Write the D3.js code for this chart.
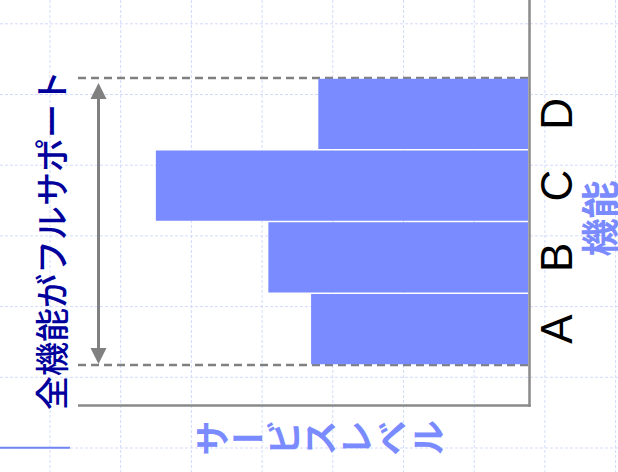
<!DOCTYPE html>
<html>
<head>
<meta charset="utf-8">
<script src="https://cdn.jsdelivr.net/npm/d3@7"></script>
<style>
  html, body { margin: 0; padding: 0; background: #fff; }
  svg { display: block; }
</style>
</head>
<body>
<script>
// ---- data ----
const categories = ["A", "B", "C", "D"];
const values = [48.2, 57.7, 82.7, 46.6];
const xTitle = "サービスレベル";
const yTitle = "機能";
const annotation = "全機能がフルサポート";

const W = 618, H = 472;
const svg = d3.select("body").append("svg").attr("width", W).attr("height", H);

// background grid (decorative)
const gx = d3.scaleLinear().domain([0, 1]).range([50, 120.7]);
const gy = d3.scaleLinear().domain([0, 1]).range([23.8, 94.5]);
const grid = svg.append("g").attr("stroke", "#d3dbfb").attr("stroke-width", 1).attr("stroke-dasharray", "3,2");
d3.range(0, 9).forEach(i => grid.append("line").attr("x1", gx(i)).attr("x2", gx(i)).attr("y1", 0).attr("y2", H));
d3.range(0, 7).forEach(i => grid.append("line").attr("y1", gy(i)).attr("y2", gy(i)).attr("x1", 0).attr("x2", W));

// scales
const x = d3.scaleLinear().domain([0, 100]).range([528, 78]);
const y = d3.scaleBand().domain(categories).range([365, 78]).paddingInner(0);
const bw = y.bandwidth();

// stray legend-like line
svg.append("line").attr("x1", 0).attr("x2", 70).attr("y1", 447.7).attr("y2", 447.7)
  .attr("stroke", "#6f86f2").attr("stroke-width", 2);

// dashed reference lines
const refY = y.range();
svg.selectAll("line.ref").data(refY).join("line").attr("class", "ref")
  .attr("x1", x.range()[1]).attr("x2", x.range()[0])
  .attr("y1", d => d).attr("y2", d => d)
  .attr("stroke", "#808080").attr("stroke-width", 2.4).attr("stroke-dasharray", "8,5");

// bars
svg.selectAll("rect.bar").data(categories).join("rect").attr("class", "bar")
  .attr("x", (d, i) => x(values[i]))
  .attr("width", (d, i) => x(0) - x(values[i]))
  .attr("y", d => y(d) + 0.75)
  .attr("height", bw - 1.5)
  .attr("fill", "#7a8aff");

// axes lines
svg.append("line").attr("x1", 529.5).attr("x2", 529.5).attr("y1", 0).attr("y2", 406.8)
  .attr("stroke", "#8a8a8a").attr("stroke-width", 2.5);
svg.append("line").attr("x1", 78).attr("x2", 530.7).attr("y1", 405.6).attr("y2", 405.6)
  .attr("stroke", "#8a8a8a").attr("stroke-width", 2.5);

// category labels (rotated)
svg.selectAll("text.cat").data(categories).join("text").attr("class", "cat")
  .attr("transform", d => `translate(572,${y(d) + bw / 2}) rotate(-90)`)
  .attr("text-anchor", "middle")
  .attr("font-family", "'Liberation Sans', Arial, sans-serif")
  .attr("font-size", 44)
  .attr("fill", "#000")
  .text(d => d);

// y title
svg.append("text")
  .attr("transform", `translate(597,${y("B") - 3}) rotate(-90)`)
  .attr("text-anchor", "middle").attr("dominant-baseline", "central")
  .attr("font-family", "'Noto Sans CJK JP', sans-serif")
  .attr("font-weight", 700).attr("font-size", 38).attr("fill", "#7a8aff")
  .text(yTitle);

// x title: vertical writing rotated
svg.append("text")
  .attr("transform", `translate(320,438) rotate(-90)`)
  .attr("text-anchor", "middle")
  .style("writing-mode", "vertical-rl")
  .attr("font-family", "'Noto Sans CJK JP', sans-serif")
  .attr("font-weight", 700).attr("font-size", 36).attr("fill", "#7a8aff")
  .text(xTitle);

// annotation
svg.append("text")
  .attr("transform", `translate(50,240) rotate(-90)`)
  .attr("text-anchor", "middle").attr("dominant-baseline", "central")
  .attr("font-family", "'Noto Sans CJK JP', sans-serif")
  .attr("font-weight", 500)
  .attr("font-size", 34).attr("fill", "#00009c")
  .text(annotation);

// double-headed arrow
const ax = 98.5, yTop = refY[1] + 5, yBot = refY[0] - 1;
svg.append("line").attr("x1", ax).attr("x2", ax).attr("y1", yTop + 12).attr("y2", yBot - 12)
  .attr("stroke", "#808080").attr("stroke-width", 3);
svg.append("path").attr("d", `M${ax},${yTop} L${ax - 8},${yTop + 16} L${ax + 8},${yTop + 16} Z`).attr("fill", "#808080");
svg.append("path").attr("d", `M${ax},${yBot} L${ax - 8},${yBot - 16} L${ax + 8},${yBot - 16} Z`).attr("fill", "#808080");
</script>
</body>
</html>
